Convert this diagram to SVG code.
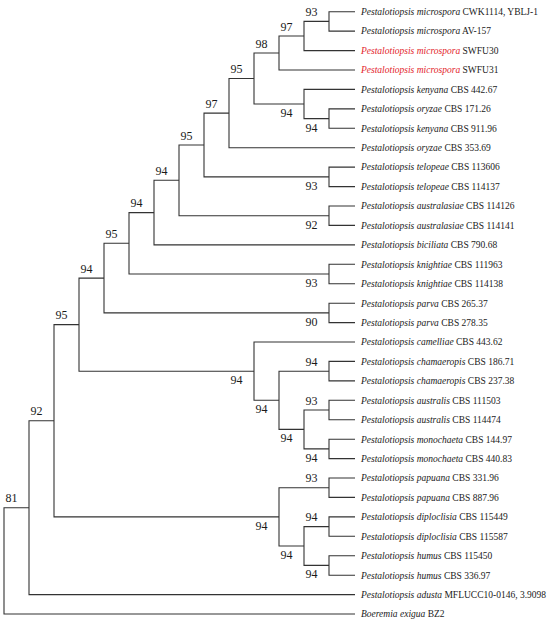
<svg xmlns="http://www.w3.org/2000/svg" width="550" height="623" viewBox="0 0 550 623">
<style>
.e{fill:none;stroke:#333;stroke-width:1.1}
.l{font-family:"Liberation Serif","Times New Roman",serif;font-size:9.5px;fill:#1a1a1a}
.l .i{font-style:italic}
.l .r{fill:#e3232b}
.b{font-family:"Liberation Serif","Times New Roman",serif;font-size:12px;fill:#1a1a1a;text-anchor:middle}
</style>
<rect width="550" height="623" fill="#fff"/>
<g id="connectors">
<path class="e" d="M355 11.7H329V31.1H355"/>
<path class="e" d="M329 21.4H304V50.6H355"/>
<path class="e" d="M304 36H279V70H355"/>
<path class="e" d="M355 108.9H329V128.3H355"/>
<path class="e" d="M355 89.4H304V118.6H329"/>
<path class="e" d="M279 53H254V104H304"/>
<path class="e" d="M254 78.5H229V147.7H355"/>
<path class="e" d="M355 167.1H329V186.6H355"/>
<path class="e" d="M229 113.1H204V176.9H329"/>
<path class="e" d="M355 206H329V225.4H355"/>
<path class="e" d="M204 145H179V215.7H329"/>
<path class="e" d="M179 180.3H154V244.9H355"/>
<path class="e" d="M355 264.3H329V283.7H355"/>
<path class="e" d="M154 212.6H129V274H329"/>
<path class="e" d="M355 303.2H329V322.6H355"/>
<path class="e" d="M129 243.3H104V312.9H329"/>
<path class="e" d="M355 361.4H329V380.9H355"/>
<path class="e" d="M355 400.3H329V419.7H355"/>
<path class="e" d="M355 439.2H329V458.6H355"/>
<path class="e" d="M329 410H304V448.9H329"/>
<path class="e" d="M329 371.2H279V429.4H304"/>
<path class="e" d="M355 342H254V400.3H279"/>
<path class="e" d="M104 278.1H79V371.2H254"/>
<path class="e" d="M355 478H329V497.4H355"/>
<path class="e" d="M355 516.9H329V536.3H355"/>
<path class="e" d="M355 555.7H329V575.2H355"/>
<path class="e" d="M329 526.6H304V565.4H329"/>
<path class="e" d="M329 487.7H279V546H304"/>
<path class="e" d="M79 324.6H54V516.9H279"/>
<path class="e" d="M54 420.8H29V594.6H355"/>
<path class="e" d="M29 507.7H4V614H355"/>
</g>
<g id="support">
<text class="b" x="311.5" y="15.9">93</text>
<text class="b" x="286.5" y="30.5">97</text>
<text class="b" x="261.5" y="47.5">98</text>
<text class="b" x="236.5" y="73">95</text>
<text class="b" x="286.5" y="117">94</text>
<text class="b" x="311.5" y="131.6">94</text>
<text class="b" x="211.5" y="107.6">97</text>
<text class="b" x="186.5" y="139.5">95</text>
<text class="b" x="311.5" y="189.9">93</text>
<text class="b" x="161.5" y="174.8">94</text>
<text class="b" x="311.5" y="228.7">92</text>
<text class="b" x="136.5" y="207.1">94</text>
<text class="b" x="111.5" y="237.8">95</text>
<text class="b" x="311.5" y="287">93</text>
<text class="b" x="86.5" y="272.6">94</text>
<text class="b" x="311.5" y="325.9">90</text>
<text class="b" x="61.5" y="319.1">95</text>
<text class="b" x="236.5" y="384.2">94</text>
<text class="b" x="311.5" y="365.7">94</text>
<text class="b" x="261.5" y="413.3">94</text>
<text class="b" x="311.5" y="404.5">93</text>
<text class="b" x="286.5" y="442.4">94</text>
<text class="b" x="311.5" y="461.9">94</text>
<text class="b" x="36.5" y="415.3">92</text>
<text class="b" x="311.5" y="482.2">93</text>
<text class="b" x="261.5" y="529.9">94</text>
<text class="b" x="311.5" y="521.1">94</text>
<text class="b" x="286.5" y="559">94</text>
<text class="b" x="311.5" y="578.4">94</text>
<text class="b" x="11.5" y="502.2">81</text>
</g>
<g id="leaf1"><text class="l" x="361" y="15"><tspan class="i">Pestalotiopsis microspora</tspan> CWK1114, YBLJ-1</text></g>
<g id="leaf2"><text class="l" x="361" y="34.4"><tspan class="i">Pestalotiopsis microspora</tspan> AV-157</text></g>
<g id="leaf3"><text class="l" x="361" y="53.9"><tspan class="i r">Pestalotiopsis microspora</tspan> SWFU30</text></g>
<g id="leaf4"><text class="l" x="361" y="73.3"><tspan class="i r">Pestalotiopsis microspora</tspan> SWFU31</text></g>
<g id="leaf5"><text class="l" x="361" y="92.7"><tspan class="i">Pestalotiopsis kenyana</tspan> CBS 442.67</text></g>
<g id="leaf6"><text class="l" x="361" y="112.2"><tspan class="i">Pestalotiopsis oryzae</tspan> CBS 171.26</text></g>
<g id="leaf7"><text class="l" x="361" y="131.6"><tspan class="i">Pestalotiopsis kenyana</tspan> CBS 911.96</text></g>
<g id="leaf8"><text class="l" x="361" y="151"><tspan class="i">Pestalotiopsis oryzae</tspan> CBS 353.69</text></g>
<g id="leaf9"><text class="l" x="361" y="170.4"><tspan class="i">Pestalotiopsis telopeae</tspan> CBS 113606</text></g>
<g id="leaf10"><text class="l" x="361" y="189.9"><tspan class="i">Pestalotiopsis telopeae</tspan> CBS 114137</text></g>
<g id="leaf11"><text class="l" x="361" y="209.3"><tspan class="i">Pestalotiopsis australasiae</tspan> CBS 114126</text></g>
<g id="leaf12"><text class="l" x="361" y="228.7"><tspan class="i">Pestalotiopsis australasiae</tspan> CBS 114141</text></g>
<g id="leaf13"><text class="l" x="361" y="248.2"><tspan class="i">Pestalotiopsis biciliata</tspan> CBS 790.68</text></g>
<g id="leaf14"><text class="l" x="361" y="267.6"><tspan class="i">Pestalotiopsis knightiae</tspan> CBS 111963</text></g>
<g id="leaf15"><text class="l" x="361" y="287"><tspan class="i">Pestalotiopsis knightiae</tspan> CBS 114138</text></g>
<g id="leaf16"><text class="l" x="361" y="306.5"><tspan class="i">Pestalotiopsis parva</tspan> CBS 265.37</text></g>
<g id="leaf17"><text class="l" x="361" y="325.9"><tspan class="i">Pestalotiopsis parva</tspan> CBS 278.35</text></g>
<g id="leaf18"><text class="l" x="361" y="345.3"><tspan class="i">Pestalotiopsis camelliae</tspan> CBS 443.62</text></g>
<g id="leaf19"><text class="l" x="361" y="364.7"><tspan class="i">Pestalotiopsis chamaeropis</tspan> CBS 186.71</text></g>
<g id="leaf20"><text class="l" x="361" y="384.2"><tspan class="i">Pestalotiopsis chamaeropis</tspan> CBS 237.38</text></g>
<g id="leaf21"><text class="l" x="361" y="403.6"><tspan class="i">Pestalotiopsis australis</tspan> CBS 111503</text></g>
<g id="leaf22"><text class="l" x="361" y="423"><tspan class="i">Pestalotiopsis australis</tspan> CBS 114474</text></g>
<g id="leaf23"><text class="l" x="361" y="442.5"><tspan class="i">Pestalotiopsis monochaeta</tspan> CBS 144.97</text></g>
<g id="leaf24"><text class="l" x="361" y="461.9"><tspan class="i">Pestalotiopsis monochaeta</tspan> CBS 440.83</text></g>
<g id="leaf25"><text class="l" x="361" y="481.3"><tspan class="i">Pestalotiopsis papuana</tspan> CBS 331.96</text></g>
<g id="leaf26"><text class="l" x="361" y="500.7"><tspan class="i">Pestalotiopsis papuana</tspan> CBS 887.96</text></g>
<g id="leaf27"><text class="l" x="361" y="520.2"><tspan class="i">Pestalotiopsis diploclisia</tspan> CBS 115449</text></g>
<g id="leaf28"><text class="l" x="361" y="539.6"><tspan class="i">Pestalotiopsis diploclisia</tspan> CBS 115587</text></g>
<g id="leaf29"><text class="l" x="361" y="559"><tspan class="i">Pestalotiopsis humus</tspan> CBS 115450</text></g>
<g id="leaf30"><text class="l" x="361" y="578.5"><tspan class="i">Pestalotiopsis humus</tspan> CBS 336.97</text></g>
<g id="leaf31"><text class="l" x="361" y="597.9"><tspan class="i">Pestalotiopsis adusta</tspan> MFLUCC10-0146, 3.9098</text></g>
<g id="leaf32"><text class="l" x="361" y="617.3"><tspan class="i">Boeremia exigua</tspan> BZ2</text></g>
</svg>
